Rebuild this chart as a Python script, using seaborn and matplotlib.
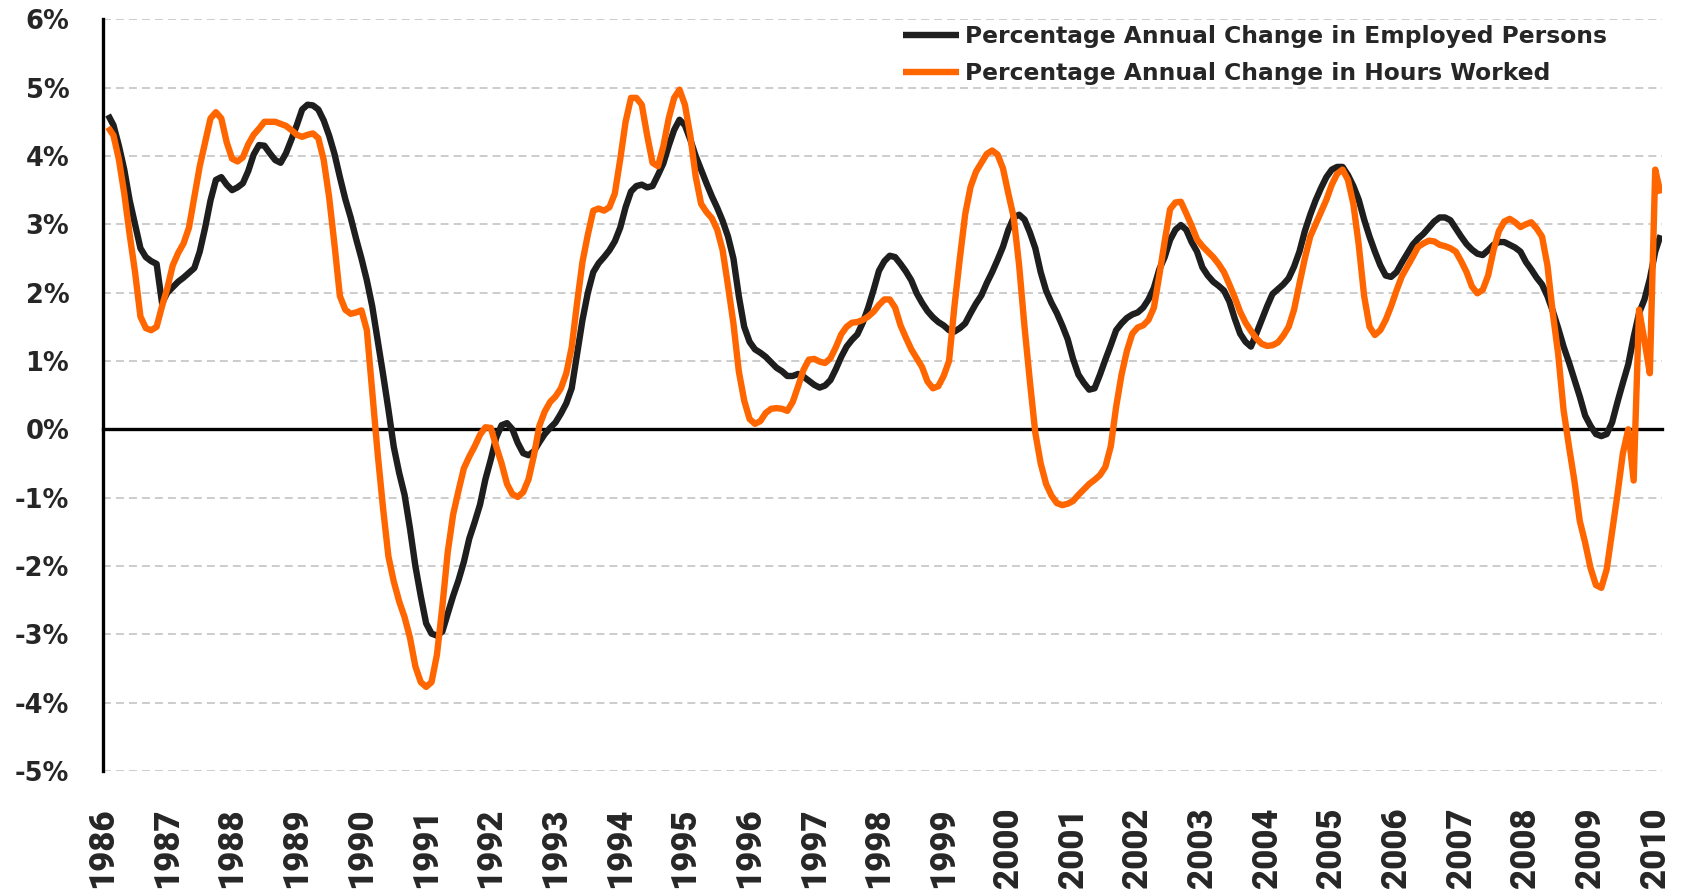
import numpy as np
import pandas as pd
import matplotlib
matplotlib.use("Agg")
import matplotlib.pyplot as plt
from matplotlib.font_manager import FontProperties
from matplotlib.ticker import FuncFormatter
import seaborn as sns

# ---------------- data (monthly, Feb 1986 .. Feb 2010) ----------------
month_number = list(range(1, 290))          # months after Jan 1986

employed_pct = [
    4.60, 4.45, 4.15, 3.80, 3.35, 3.00, 2.65, 2.52, 2.46, 2.42, 1.85, 2.00,
    2.08, 2.16, 2.22, 2.29, 2.36, 2.60, 2.95, 3.35, 3.65, 3.69, 3.58, 3.50,
    3.54, 3.60, 3.78, 4.02, 4.16, 4.15, 4.04, 3.94, 3.90, 4.04, 4.24, 4.45,
    4.68, 4.75, 4.74, 4.68, 4.52, 4.30, 4.03, 3.69, 3.37, 3.10, 2.79, 2.50,
    2.18, 1.80, 1.31, 0.81, 0.29, -0.26, -0.64, -0.96, -1.45, -2.00, -2.44, -2.84,
    -2.99, -3.02, -2.96, -2.70, -2.44, -2.21, -1.94, -1.60, -1.36, -1.10, -0.73, -0.44,
    -0.12, 0.06, 0.09, 0.00, -0.20, -0.35, -0.38, -0.32, -0.19, -0.07, 0.02, 0.10,
    0.23, 0.38, 0.60, 1.10, 1.60, 2.00, 2.30, 2.43, 2.52, 2.62, 2.75, 2.95,
    3.25, 3.48, 3.56, 3.58, 3.54, 3.56, 3.72, 3.89, 4.15, 4.38, 4.53, 4.45,
    4.24, 4.00, 3.80, 3.60, 3.41, 3.24, 3.05, 2.82, 2.50, 1.95, 1.50, 1.28,
    1.17, 1.12, 1.06, 0.98, 0.90, 0.85, 0.78, 0.78, 0.81, 0.77, 0.71, 0.65,
    0.61, 0.64, 0.72, 0.88, 1.06, 1.21, 1.31, 1.39, 1.56, 1.78, 2.04, 2.32,
    2.46, 2.54, 2.52, 2.42, 2.31, 2.18, 1.99, 1.85, 1.73, 1.64, 1.57, 1.52,
    1.45, 1.43, 1.48, 1.55, 1.70, 1.84, 1.96, 2.14, 2.30, 2.48, 2.67, 2.92,
    3.10, 3.14, 3.07, 2.88, 2.65, 2.30, 2.03, 1.85, 1.70, 1.52, 1.32, 1.03,
    0.80, 0.68, 0.58, 0.60, 0.80, 1.02, 1.23, 1.45, 1.55, 1.63, 1.68, 1.71,
    1.78, 1.90, 2.07, 2.34, 2.52, 2.77, 2.92, 2.99, 2.92, 2.74, 2.60, 2.37,
    2.25, 2.16, 2.10, 2.03, 1.87, 1.62, 1.40, 1.28, 1.21, 1.40, 1.60, 1.80,
    1.98, 2.05, 2.12, 2.21, 2.38, 2.60, 2.90, 3.14, 3.35, 3.53, 3.69, 3.80,
    3.84, 3.84, 3.72, 3.56, 3.36, 3.07, 2.82, 2.60, 2.40, 2.25, 2.23, 2.30,
    2.44, 2.57, 2.70, 2.79, 2.86, 2.95, 3.04, 3.10, 3.10, 3.06, 2.94, 2.82,
    2.71, 2.63, 2.57, 2.55, 2.62, 2.70, 2.74, 2.74, 2.70, 2.66, 2.60, 2.45,
    2.34, 2.22, 2.12, 1.95, 1.73, 1.48, 1.21, 0.98, 0.73, 0.48, 0.20, 0.05,
    -0.07, -0.10, -0.07, 0.10, 0.40, 0.68, 0.95, 1.35, 1.70, 1.90, 2.20, 2.60,
    2.84,
]

hours_pct = [
    4.42, 4.30, 3.95, 3.45, 2.85, 2.30, 1.65, 1.48, 1.45, 1.50, 1.80, 2.07,
    2.40, 2.58, 2.72, 2.95, 3.40, 3.85, 4.20, 4.55, 4.64, 4.55, 4.20, 3.96,
    3.92, 3.98, 4.17, 4.31, 4.40, 4.50, 4.50, 4.50, 4.47, 4.44, 4.38, 4.31,
    4.28, 4.31, 4.33, 4.26, 3.94, 3.40, 2.70, 1.95, 1.75, 1.69, 1.71, 1.74,
    1.45, 0.55, -0.35, -1.15, -1.86, -2.23, -2.52, -2.75, -3.05, -3.47, -3.70, -3.77,
    -3.70, -3.30, -2.60, -1.80, -1.25, -0.90, -0.57, -0.40, -0.25, -0.08, 0.03, 0.02,
    -0.25, -0.50, -0.80, -0.95, -0.99, -0.92, -0.73, -0.38, 0.05, 0.26, 0.40, 0.48,
    0.60, 0.82, 1.20, 1.85, 2.45, 2.85, 3.20, 3.23, 3.20, 3.25, 3.45, 3.95,
    4.50, 4.85, 4.85, 4.75, 4.30, 3.90, 3.85, 4.14, 4.55, 4.85, 4.97, 4.75,
    4.30, 3.70, 3.30, 3.18, 3.09, 2.92, 2.62, 2.10, 1.55, 0.85, 0.42, 0.15,
    0.08, 0.12, 0.24, 0.30, 0.31, 0.30, 0.27, 0.40, 0.63, 0.87, 1.02, 1.03,
    0.99, 0.97, 1.04, 1.20, 1.39, 1.50, 1.56, 1.57, 1.60, 1.65, 1.72, 1.82,
    1.90, 1.90, 1.78, 1.52, 1.34, 1.17, 1.04, 0.91, 0.70, 0.60, 0.63, 0.78,
    1.00, 1.80, 2.50, 3.15, 3.55, 3.77, 3.90, 4.03, 4.08, 4.02, 3.82, 3.45,
    3.10, 2.40, 1.50, 0.70, -0.05, -0.50, -0.80, -0.97, -1.08, -1.11, -1.09, -1.05,
    -0.96, -0.88, -0.80, -0.74, -0.67, -0.55, -0.25, 0.33, 0.80, 1.15, 1.40, 1.49,
    1.52, 1.60, 1.78, 2.25, 2.75, 3.22, 3.32, 3.33, 3.16, 2.98, 2.78, 2.68,
    2.60, 2.52, 2.42, 2.30, 2.12, 1.93, 1.72, 1.56, 1.44, 1.33, 1.25, 1.22,
    1.23, 1.27, 1.37, 1.50, 1.75, 2.13, 2.50, 2.82, 3.00, 3.18, 3.36, 3.58,
    3.74, 3.80, 3.65, 3.30, 2.70, 1.95, 1.50, 1.38, 1.45, 1.60, 1.80, 2.03,
    2.24, 2.38, 2.52, 2.67, 2.72, 2.76, 2.75, 2.70, 2.68, 2.65, 2.60, 2.46,
    2.30, 2.09, 1.99, 2.04, 2.25, 2.62, 2.90, 3.04, 3.08, 3.03, 2.96, 3.00,
    3.03, 2.94, 2.82, 2.40, 1.70, 1.10, 0.28, -0.25, -0.75, -1.34, -1.66, -2.03,
    -2.28, -2.32, -2.05, -1.50, -0.95, -0.35, 0.00, -0.75, 1.75, 1.30, 0.82, 3.80,
    3.45,
]

series_names = ["Percentage Annual Change in Employed Persons",
                "Percentage Annual Change in Hours Worked"]
series_colors = ["#1E1E1E", "#FF6600"]
year_ticks = list(range(1986, 2011))
year_labels = [str(y) for y in year_ticks]
pct_ticks = list(range(-5, 7))

# ---------------- build long table ----------------
decimal_year = [1986 + m / 12.0 for m in month_number]
df = pd.concat([
    pd.DataFrame({"year": decimal_year, "value": employed_pct, "series": series_names[0]}),
    pd.DataFrame({"year": decimal_year, "value": hours_pct, "series": series_names[1]}),
], ignore_index=True)

# ---------------- style ----------------
sns.set_style("white")
plt.rcParams["font.family"] = ["DejaVu Sans"]

fig = plt.figure(figsize=(16.9, 8.89), dpi=100)
ax = fig.add_axes([0.06077, 0.13279, 0.92248, 0.8455])

sns.lineplot(data=df, x="year", y="value", hue="series",
             hue_order=series_names, palette=dict(zip(series_names, series_colors)),
             legend=False, ax=ax, sort=False)
for ln in ax.lines:
    ln.set_linewidth(4.6)
    ln.set_zorder(3)
    ln.set_solid_joinstyle("round")
    ln.set_solid_capstyle("butt")

ax.set_xlim(1986, 2010.1)
ax.set_ylim(-5, 6)
ax.set_xlabel("")
ax.set_ylabel("")

# grid
ax.set_axisbelow(True)
ax.yaxis.grid(True, color="#BFBFBF", linestyle=(0, (5.2, 3.3)), linewidth=1.1)
ax.xaxis.grid(False)

# spines
for s in ["top", "right"]:
    ax.spines[s].set_visible(False)
ax.spines["left"].set_linewidth(2.4)
ax.spines["left"].set_color("black")
ax.spines["bottom"].set_position(("data", 0))
ax.spines["bottom"].set_linewidth(2.4)
ax.spines["bottom"].set_color("black")

# y ticks
ax.set_yticks(pct_ticks)
ax.yaxis.set_major_formatter(FuncFormatter(lambda v, p: f"{int(round(v))}%"))
ax.tick_params(axis="y", direction="out", length=8, width=2.4, pad=16, color="black")
ylab_font = FontProperties(family="DejaVu Sans", weight="heavy", size=18.5)
for lab in ax.get_yticklabels():
    lab.set_fontproperties(ylab_font)

# x ticks on zero line (marks only)
ax.set_xticks(year_ticks)
ax.tick_params(axis="x", direction="out", length=7.5, width=2.4, labelbottom=False, color="black")

# year labels at bottom
sec = ax.secondary_xaxis(0.0)
sec.set_xticks(year_ticks, labels=year_labels)
sec.tick_params(length=0, pad=26, labelrotation=90)
sec.spines["bottom"].set_visible(False)
xlab_font = FontProperties(family="Roboto", weight="heavy", size=25)
for lab in sec.get_xticklabels():
    lab.set_fontproperties(xlab_font)

# legend
leg_font = FontProperties(family="DejaVu Sans", weight="bold", size=16.8)
leg = ax.legend(ax.lines[:2], series_names, loc="upper left",
                bbox_to_anchor=(0.5343, 0.972), bbox_transform=fig.transFigure,
                frameon=False, prop=leg_font, handlelength=2.4, handletextpad=0.26,
                labelspacing=0.6, borderpad=0, borderaxespad=0)
for h in leg.get_lines():
    h.set_linewidth(4.6)

fig.savefig("out.png", dpi=100)
